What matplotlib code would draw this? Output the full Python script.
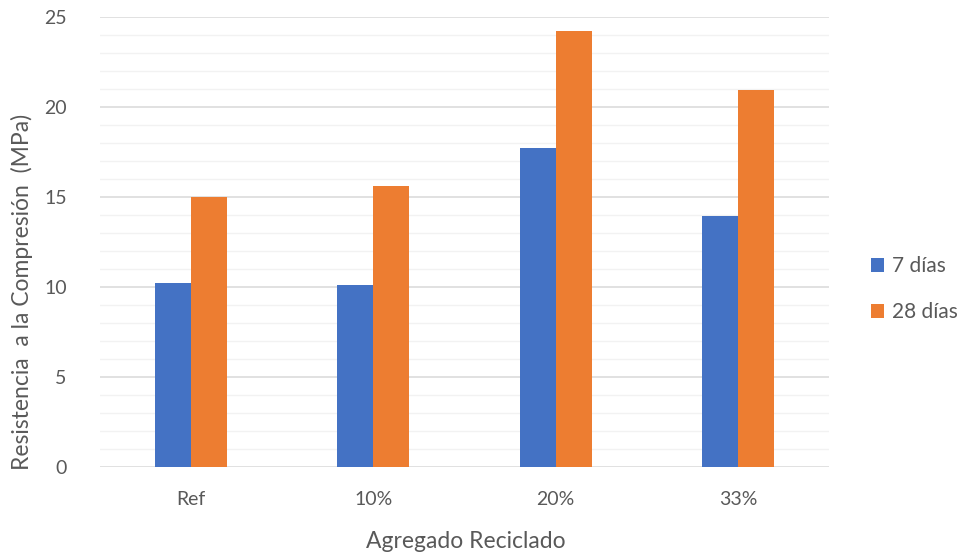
import numpy as np
import matplotlib
matplotlib.use("Agg")
import matplotlib.pyplot as plt
from matplotlib.patches import Patch

plt.rcParams['font.family'] = ['Lato', 'DejaVu Sans']

categories = ["Ref", "10%", "20%", "33%"]
series_names = ["7 días", "28 días"]
dias_7 = [10.2, 10.1, 17.7, 13.95]
dias_28 = [15.0, 15.6, 24.2, 20.95]
y_ticks = [0, 5, 10, 15, 20, 25]

blue = "#4472C4"
orange = "#ED7D31"
text_gray = "#595959"

W, H = 963, 554
fig = plt.figure(figsize=(W / 100, H / 100), dpi=100)
ax = fig.add_axes([100 / W, 1 - 467 / H, 729 / W, 450 / H])

x = np.arange(len(categories))
w = 0.1975
ax.bar(x - w / 2, dias_7, width=w, color=blue, zorder=3, label=series_names[0])
ax.bar(x + w / 2, dias_28, width=w, color=orange, zorder=3, label=series_names[1])

ax.set_xlim(-0.5, len(categories) - 0.5)
ax.set_ylim(0, 25)
ax.set_yticks(y_ticks)
ax.set_yticks(np.arange(0, 26, 1), minor=True)
ax.grid(axis="y", which="minor", color="#f2f2f2", linewidth=1.0, zorder=0)
ax.grid(axis="y", which="major", color="#d9d9d9", linewidth=1.1, zorder=1)
ax.set_axisbelow(True)

for s in ax.spines.values():
    s.set_visible(False)
ax.tick_params(axis="both", which="both", length=0)
ax.tick_params(axis="y", pad=24, labelsize=14, labelcolor=text_gray)
ax.tick_params(axis="x", pad=17, labelsize=14, labelcolor=text_gray)
ax.set_xticks(x)
ax.set_xticklabels(categories)

fig.text(466 / W, 1 - 541 / H, "Agregado Reciclado", fontsize=16.5, color=text_gray,
         ha="center", va="center")
fig.text(22 / W, 1 - 292 / H, "Resistencia  a la Compresión  (MPa)", fontsize=16.5,
         color=text_gray, ha="center", va="center", rotation=90)

handles = [Patch(facecolor=blue, edgecolor="none"), Patch(facecolor=orange, edgecolor="none")]
fig.legend(handles, series_names, loc="center left", bbox_to_anchor=(852 / W, 1 - 289 / H),
           frameon=False, fontsize=15, labelcolor=text_gray, handlelength=0.65, handleheight=0.65,
           handletextpad=0.35, labelspacing=1.25)

fig.savefig("out.png", dpi=100)
